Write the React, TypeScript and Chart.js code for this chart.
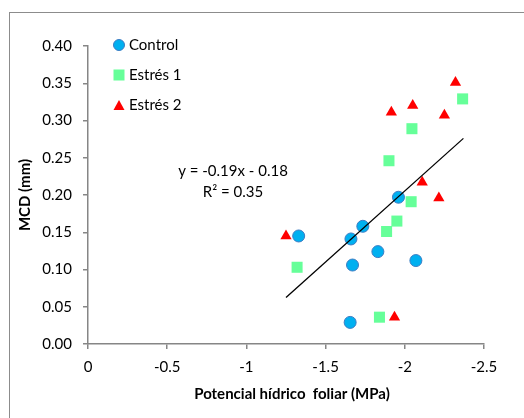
import React, { useEffect, useRef } from 'react';
import { Chart, registerables } from 'chart.js';

Chart.register(...registerables);

// ---- Data ----
const controlX = [-1.33, -1.66, -1.735, -1.67, -1.83, -1.96, -2.07, -1.655];
const controlY = [0.145, 0.141, 0.158, 0.106, 0.124, 0.197, 0.112, 0.029];
const estres1X = [-1.32, -1.84, -1.885, -1.95, -1.9, -2.04, -2.045, -2.365];
const estres1Y = [0.103, 0.036, 0.151, 0.165, 0.246, 0.191, 0.289, 0.329];
const estres2X = [-1.25, -1.935, -1.915, -2.05, -2.11, -2.215, -2.25, -2.32];
const estres2Y = [0.145, 0.036, 0.311, 0.32, 0.217, 0.196, 0.307, 0.351];
const trendX = [-1.25, -2.37];
const trendY = [0.0625, 0.276];
const xTickValues = [0, -0.5, -1, -1.5, -2, -2.5];
const xTickLabels = ['0', '-0.5', '-1', '-1.5', '-2', '-2.5'];
const yTickValues = [0, 0.05, 0.1, 0.15, 0.2, 0.25, 0.3, 0.35, 0.4];
const yTickLabels = ['0.00', '0.05', '0.10', '0.15', '0.20', '0.25', '0.30', '0.35', '0.40'];
const seriesNames = ['Control', 'Estrés 1', 'Estrés 2'];
const equationLines = ['y = -0.19x - 0.18', 'R² = 0.35'];
const xTitle = 'Potencial hídrico  foliar (MPa)';
const yTitle = 'MCD (mm)';

const BLUE = '#00B0F0';
const BLUE_BORDER = '#3C7DC4';
const GREEN = '#66FF99';
const RED = '#FF0000';
const AXIS = '#868686';
const FONT = 'Lato';

const zip = (xs: number[], ys: number[]) => xs.map((x, i) => ({ x, y: ys[i] }));

function drawMarker(ctx: CanvasRenderingContext2D, kind: number, x: number, y: number) {
  ctx.save();
  ctx.lineWidth = 1;
  if (kind === 0) {
    ctx.beginPath();
    ctx.arc(x, y, 5.5, 0, Math.PI * 2);
    ctx.fillStyle = BLUE;
    ctx.fill();
    ctx.strokeStyle = BLUE_BORDER;
    ctx.stroke();
  } else if (kind === 1) {
    ctx.fillStyle = GREEN;
    ctx.fillRect(x - 5.5, y - 5.5, 11, 11);
  } else {
    ctx.beginPath();
    ctx.moveTo(x, y - 5);
    ctx.lineTo(x + 5.5, y + 5);
    ctx.lineTo(x - 5.5, y + 5);
    ctx.closePath();
    ctx.fillStyle = RED;
    ctx.fill();
  }
  ctx.restore();
}

const decorPlugin = {
  id: 'decor',
  beforeDraw(chart: any) {
    const ctx = chart.ctx as CanvasRenderingContext2D;
    ctx.save();
    ctx.fillStyle = '#ffffff';
    ctx.fillRect(0, 0, chart.width, chart.height);
    ctx.strokeStyle = '#8C8C8C';
    ctx.lineWidth = 1;
    ctx.strokeRect(9.5, 12.5, chart.width + 20, chart.height + 20);
    ctx.restore();
  },
  afterDraw(chart: any) {
    const ctx = chart.ctx as CanvasRenderingContext2D;
    const area = chart.chartArea;
    ctx.save();
    ctx.font = `15px ${FONT}`;
    ctx.fillStyle = '#000';
    ctx.textBaseline = 'middle';
    ctx.textAlign = 'left';
    seriesNames.forEach((name, i) => {
      const my = area.top - 1 + i * 30;
      drawMarker(ctx, i, area.left + 31, my);
      ctx.fillText(name, area.left + 41, my);
    });
    ctx.textAlign = 'center';
    equationLines.forEach((line, i) => {
      ctx.fillText(line, area.left + 145, area.top + 125 + i * 21);
    });
    ctx.font = `bold 15px ${FONT}`;
    ctx.fillText(xTitle, (area.left + area.right) / 2 + 6, area.bottom + 50);
    ctx.restore();
  },
};

export default function App() {
  const ref = useRef<HTMLCanvasElement | null>(null);

  useEffect(() => {
    document.body.style.margin = '0';
    const canvas = ref.current;
    if (!canvas) return;
    const chart = new Chart(canvas, {
      type: 'scatter',
      data: {
        datasets: [
          {
            type: 'line',
            label: 'Tendencia',
            data: zip(trendX, trendY),
            borderColor: '#000',
            borderWidth: 1.3,
            pointRadius: 0,
            showLine: true,
            fill: false,
          } as any,
          {
            label: seriesNames[0],
            data: zip(controlX, controlY),
            pointStyle: 'circle',
            pointRadius: 6,
            backgroundColor: BLUE,
            borderColor: BLUE_BORDER,
            borderWidth: 1,
          },
          {
            label: seriesNames[1],
            data: zip(estres1X, estres1Y),
            pointStyle: 'rect',
            pointRadius: 7.8,
            backgroundColor: GREEN,
            borderColor: GREEN,
            borderWidth: 0,
          },
          {
            label: seriesNames[2],
            data: zip(estres2X, estres2Y),
            pointStyle: 'triangle',
            pointRadius: 6.5,
            backgroundColor: RED,
            borderColor: RED,
            borderWidth: 0,
          },
        ],
      },
      options: {
        responsive: false,
        animation: false,
        layout: { padding: { left: 0, right: 40, top: 46, bottom: 0 } },
        plugins: {
          legend: { display: false },
          tooltip: { enabled: false },
        },
        scales: {
          x: {
            type: 'linear',
            reverse: true,
            min: -2.5,
            max: 0,
            afterBuildTicks: (scale: any) => {
              scale.ticks = xTickValues.map((v) => ({ value: v }));
            },
            afterFit: (scale: any) => {
              scale.height = 74;
            },
            ticks: {
              callback: (v: any) => {
                const i = xTickValues.findIndex((t) => Math.abs(t - Number(v)) < 1e-9);
                return i >= 0 ? xTickLabels[i] : '';
              },
              color: '#000',
              font: { family: FONT, size: 15 },
              padding: 9,
              maxRotation: 0,
            },
            grid: { display: true, drawOnChartArea: false, drawTicks: true, tickLength: 5, color: AXIS, lineWidth: 1.5 },
            border: { display: true, color: AXIS, width: 1.5 },
          },
          y: {
            type: 'linear',
            min: 0,
            max: 0.4,
            afterBuildTicks: (scale: any) => {
              scale.ticks = yTickValues.map((v) => ({ value: v }));
            },
            afterFit: (scale: any) => {
              scale.width = 88;
            },
            ticks: {
              callback: (v: any) => {
                const i = yTickValues.findIndex((t) => Math.abs(t - Number(v)) < 1e-9);
                return i >= 0 ? yTickLabels[i] : '';
              },
              color: '#000',
              font: { family: FONT, size: 15 },
              padding: 11,
            },
            grid: { display: true, drawOnChartArea: false, drawTicks: true, tickLength: 5, color: AXIS, lineWidth: 1.5 },
            border: { display: true, color: AXIS, width: 1.5 },
            title: {
              display: true,
              text: yTitle,
              color: '#000',
              font: { family: FONT, size: 15, weight: 'bold' },
              padding: { top: 16, bottom: 0 },
            },
          },
        },
      },
      plugins: [decorPlugin],
    });
    return () => chart.destroy();
  }, []);

  return <canvas ref={ref} width={524} height={418} style={{ display: 'block' }} />;
}
